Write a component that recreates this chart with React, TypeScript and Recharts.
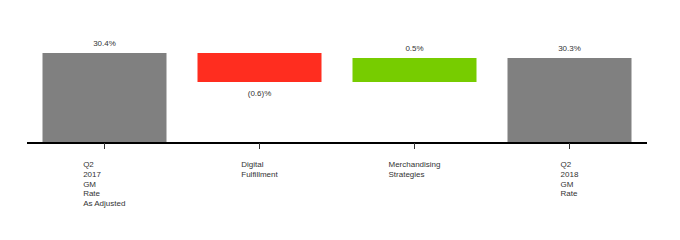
import React from 'react';
import { BarChart, Bar, XAxis, YAxis, Cell, LabelList } from 'recharts';

// waterfall steps (values in % GM rate)
const categories = ['Q2 2017 GM Rate As Adjusted', 'Digital Fulfillment', 'Merchandising Strategies', 'Q2 2018 GM Rate'];
const categoryLines = [
  ['Q2', '2017', 'GM', 'Rate', 'As Adjusted'],
  ['Digital', 'Fulfillment'],
  ['Merchandising', 'Strategies'],
  ['Q2', '2018', 'GM', 'Rate'],
];
const stepStart = [28.6, 30.4, 29.82, 28.6];
const stepEnd = [30.4, 29.82, 30.3, 30.3];
const valueLabels = ['30.4%', '(0.6)%', '0.5%', '30.3%'];
const barColors = ['#808080', '#ff2d1f', '#77cc00', '#808080'];

const yDomain = [28.6, 31.0];

const data = categories.map((name, i) => ({
  name,
  range: [Math.min(stepStart[i], stepEnd[i]), Math.max(stepStart[i], stepEnd[i])],
  down: stepEnd[i] < stepStart[i],
}));

const FONT = '"Liberation Sans", Arial, sans-serif';

let measureCtx: CanvasRenderingContext2D | null = null;
const textWidth = (s: string) => {
  if (!measureCtx) measureCtx = document.createElement('canvas').getContext('2d');
  if (!measureCtx) return s.length * 4.5;
  measureCtx.font = `8px ${FONT}`;
  return measureCtx.measureText(s).width;
};

const CategoryTick = (props: any) => {
  const { x, y, index } = props;
  const lines = categoryLines[index] || [];
  const w = Math.max(...lines.map(textWidth));
  return (
    <text x={x - w / 2} y={y} fill="#333" fontSize={8} fontFamily={FONT} textAnchor="start">
      {lines.map((l, i) => (
        <tspan key={i} x={x - w / 2} dy={i === 0 ? 16 : 9.75}>
          {l}
        </tspan>
      ))}
    </text>
  );
};

const StepLabel = (props: any) => {
  const { x, y, width, height, index } = props;
  const top = Math.min(y, y + height);
  const bottom = Math.max(y, y + height);
  const below = data[index].down;
  return (
    <text
      x={x + width / 2}
      y={below ? bottom + 14.3 : top - 7.5}
      fill="#333"
      fontSize={8}
      fontFamily={FONT}
      textAnchor="middle"
    >
      {valueLabels[index]}
    </text>
  );
};

export default function App() {
  return (
    <div style={{ position: 'absolute', left: 0, top: 0, width: 680, height: 240, background: '#fff' }}>
      <BarChart
        width={680}
        height={240}
        data={data}
        margin={{ top: 23, right: 33, bottom: 0, left: 27 }}
        barCategoryGap="10%"
      >
        <YAxis hide domain={yDomain} allowDataOverflow />
        <XAxis
          dataKey="name"
          height={97}
          interval={0}
          axisLine={{ stroke: '#000', strokeWidth: 2 }}
          tickLine={{ stroke: '#333', strokeWidth: 1 }}
          tickSize={6}
          tickMargin={2}
          tick={<CategoryTick />}
        />
        <Bar dataKey="range" isAnimationActive={false}>
          {data.map((d, i) => (
            <Cell key={d.name} fill={barColors[i]} />
          ))}
          <LabelList dataKey="range" content={<StepLabel />} />
        </Bar>
      </BarChart>
    </div>
  );
}
